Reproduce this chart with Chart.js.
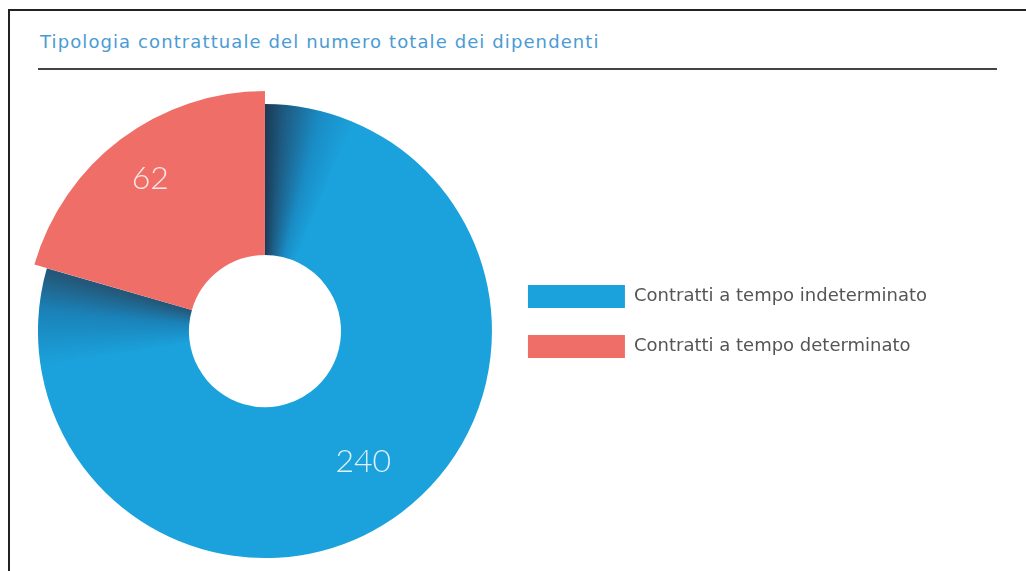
<!DOCTYPE html>
<html>
<head>
<meta charset="utf-8">
<script src="https://cdn.jsdelivr.net/npm/chart.js@4"></script>
<style>
  body { margin: 0; background: #fff; width: 1026px; height: 571px; overflow: hidden; position: relative; }
  .frame { position: absolute; left: 8px; top: 9px; width: 1100px; height: 700px; border-left: 2px solid #222; border-top: 2px solid #222; }
  .title { position: absolute; left: 40px; top: 31px; font: 18px "DejaVu Sans", sans-serif; letter-spacing: 1.1px; color: #4a9bd4; white-space: nowrap; }
  .rule { position: absolute; left: 38px; top: 68px; width: 959px; height: 2px; background: #444; }
  .wrap { position: absolute; left: 0; top: 72px; width: 1026px; height: 499px; }
</style>
</head>
<body>
<div class="frame"></div>
<div class="title">Tipologia contrattuale del numero totale dei dipendenti</div>
<div class="rule"></div>
<div class="wrap"><canvas id="contractChart"></canvas></div>
<script>
const contractLabels = ['Contratti a tempo indeterminato', 'Contratti a tempo determinato'];
const contractCounts = [240, 62];

const BLUE = '#1ba2dc';
const RED = '#ef6f68';

// blue ring gets darker where the red slice sits on top of it
function blueShade(chart) {
  const area = chart.chartArea;
  if (!area) return BLUE;
  const cx = (area.left + area.right) / 2;
  const cy = (area.top + area.bottom) / 2;
  const total = contractCounts.reduce((a, b) => a + b, 0);
  const end = contractCounts[0] / total;
  const g = chart.ctx.createConicGradient(-Math.PI / 2, cx, cy);
  g.addColorStop(0, '#1b3a55');
  g.addColorStop(0.014, '#1d5b82');
  g.addColorStop(0.04, '#1a8cc5');
  g.addColorStop(0.065, BLUE);
  g.addColorStop(end - 0.07, BLUE);
  g.addColorStop(end - 0.03, '#1a82b8');
  g.addColorStop(end - 0.003, '#24587a');
  g.addColorStop(1, '#24587a');
  return g;
}

// the red slice sticks out past the ring
const raiseSlice = {
  id: 'raiseSlice',
  afterDatasetUpdate(chart, args) {
    const arc = args.meta.data[1];
    if (arc) arc.outerRadius += 13;
  }
};

const sliceValues = {
  id: 'sliceValues',
  afterDatasetsDraw(chart) {
    const ctx = chart.ctx;
    const meta = chart.getDatasetMeta(0);
    ctx.save();
    ctx.font = '300 32px Lato, sans-serif';
    ctx.fillStyle = 'rgba(255,255,255,0.85)';
    ctx.textAlign = 'center';
    ctx.textBaseline = 'middle';
    meta.data.forEach((arc, i) => {
      const mid = (arc.startAngle + arc.endAngle) / 2;
      const r = arc.innerRadius + (arc.outerRadius - arc.innerRadius) * (i === 0 ? 0.58 : 0.7);
      ctx.fillText(String(contractCounts[i]), arc.x + Math.cos(mid) * r, arc.y + Math.sin(mid) * r);
    });
    ctx.restore();
  }
};

new Chart(document.getElementById('contractChart').getContext('2d'), {
  type: 'doughnut',
  data: {
    labels: contractLabels,
    datasets: [{
      data: contractCounts,
      backgroundColor: ctx => ctx.dataIndex === 0 ? blueShade(ctx.chart) : RED,
      borderWidth: 0
    }]
  },
  options: {
    responsive: true,
    maintainAspectRatio: false,
    animation: false,
    radius: 227,
    cutout: '33.5%',
    layout: { padding: { left: 29, top: 0, right: 89, bottom: 0 } },
    plugins: {
      // empty title only keeps the ring a little lower than the legend
      title: { display: true, text: '', font: { size: 1 }, padding: { top: 0, bottom: 18 } },
      legend: {
        position: 'right',
        labels: {
          boxWidth: 97,
          boxHeight: 23,
          padding: 27,
          color: '#555',
          font: { family: 'DejaVu Sans', size: 18 }
        }
      },
      tooltip: { enabled: false }
    }
  },
  plugins: [raiseSlice, sliceValues]
});
</script>
</body>
</html>
